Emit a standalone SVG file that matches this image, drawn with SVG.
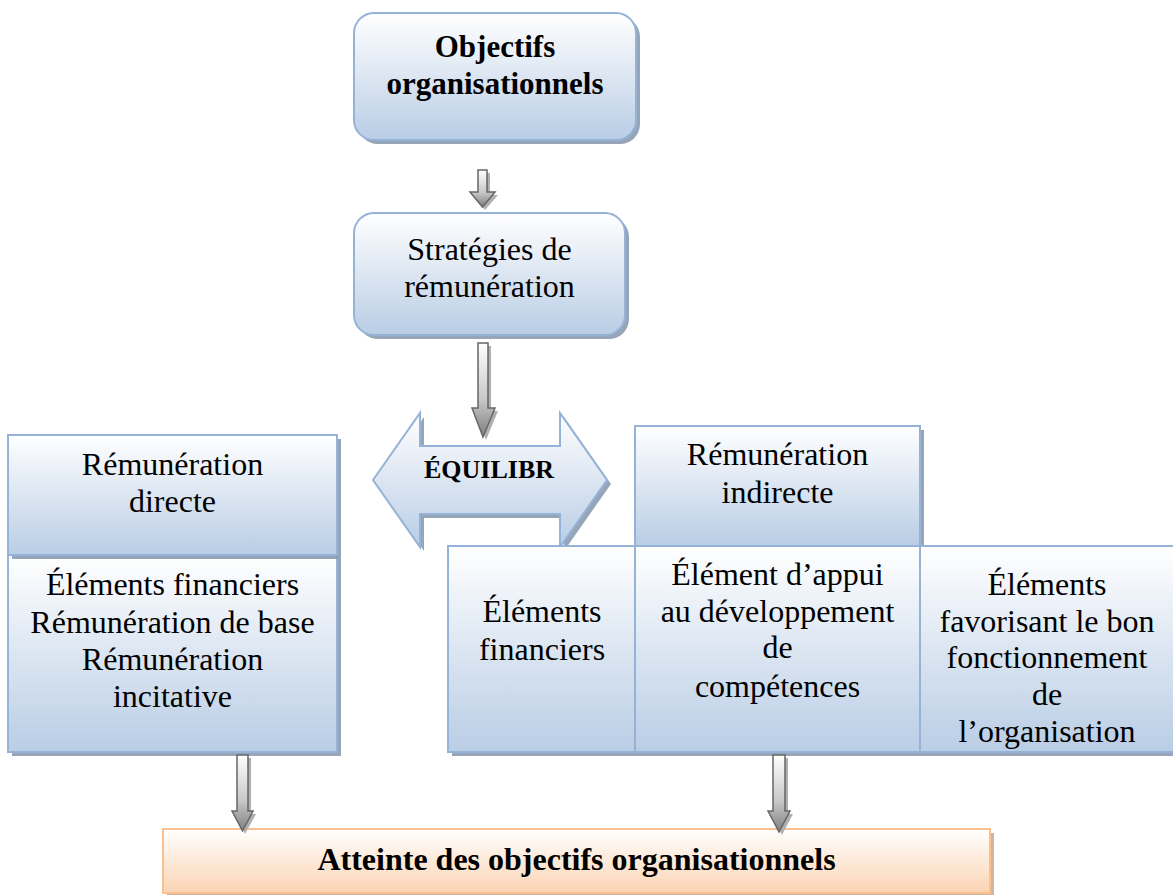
<svg xmlns="http://www.w3.org/2000/svg" width="1173" height="895" viewBox="0 0 1173 895">
<defs>
<linearGradient id="gBlue" x1="0" y1="0" x2="0" y2="1">
<stop offset="0" stop-color="#ffffff"/><stop offset="0.5" stop-color="#dce6f2"/><stop offset="1" stop-color="#b9cde5"/>
</linearGradient>
<linearGradient id="gOrange" x1="0" y1="0" x2="0" y2="1">
<stop offset="0" stop-color="#ffffff"/><stop offset="1" stop-color="#fbd4b4"/>
</linearGradient>
<linearGradient id="gGray" x1="0" y1="0" x2="0" y2="1">
<stop offset="0" stop-color="#ffffff"/><stop offset="0.6" stop-color="#c8c8c8"/><stop offset="1" stop-color="#7f7f7f"/>
</linearGradient>
<style>
.blue{fill:url(#gBlue);stroke:#95b3d7;stroke-width:2}
.orange{fill:url(#gOrange);stroke:#fac090;stroke-width:2}
.shadow{fill:#8496ac;opacity:0.85}
.ashadow{fill:#b0b0b0}
.arrow{fill:url(#gGray);stroke:#666666;stroke-width:1.5}
.t{font-family:"Liberation Serif","Times New Roman",serif;font-size:32px;fill:#000;text-anchor:middle}
.b{font-weight:bold}
</style>
</defs>

<g id="objectifs">
<rect class="shadow" x="358" y="17" width="282" height="127" rx="20"/>
<rect class="blue" x="354" y="13" width="282" height="127" rx="20"/>
<text class="t b" x="495" y="57" style="font-size:31px">Objectifs</text>
<text class="t b" x="495" y="94" style="font-size:31px">organisationnels</text>
</g>

<g id="strategies">
<rect class="shadow" x="358" y="217" width="271" height="122" rx="20"/>
<rect class="blue" x="354" y="213" width="271" height="122" rx="20"/>
<text class="t" x="489.5" y="260">Stratégies de</text>
<text class="t" x="489.5" y="297">rémunération</text>
</g>

<g id="equilibre">
<path class="shadow" d="M377,484 L424,417 L424,451 L564,451 L564,417 L611,484 L564,551 L564,518 L424,518 L424,551 Z"/>
<path class="blue" d="M373,480 L420,413 L420,446 L560,446 L560,413 L607,480 L560,547 L560,514 L420,514 L420,547 Z"/>
<text class="t b" x="489" y="478" style="font-size:26px">ÉQUILIBR</text>
</g>

<g id="directe-elements">
<rect class="shadow" x="12" y="559" width="329" height="197"/>
<rect class="blue" x="8" y="555" width="329" height="197"/>
<text class="t" x="172.5" y="595">Éléments financiers</text>
<text class="t" x="172.5" y="633">Rémunération de base</text>
<text class="t" x="172.5" y="670">Rémunération</text>
<text class="t" x="172.5" y="707">incitative</text>
</g>

<g id="directe">
<rect class="shadow" x="12" y="439" width="329" height="120"/>
<rect class="blue" x="8" y="435" width="329" height="120"/>
<text class="t" x="172.5" y="475">Rémunération</text>
<text class="t" x="172.5" y="512">directe</text>
</g>

<g id="indirecte">
<rect class="shadow" x="639" y="430" width="285" height="120"/>
<rect class="blue" x="635" y="426" width="285" height="120"/>
<text class="t" x="777.5" y="465">Rémunération</text>
<text class="t" x="777.5" y="503">indirecte</text>
</g>

<g id="indirecte-row">
<rect class="shadow" x="452" y="550" width="730" height="206"/>
<g id="financiers">
<rect class="blue" x="448" y="546" width="187" height="206"/>
<text class="t" x="542" y="622">Éléments</text>
<text class="t" x="542" y="660">financiers</text>
</g>
<g id="appui">
<rect class="blue" x="635" y="546" width="285" height="206"/>
<text class="t" x="777.5" y="585">Élément d’appui</text>
<text class="t" x="777.5" y="622">au développement</text>
<text class="t" x="777.5" y="658">de</text>
<text class="t" x="777.5" y="697">compétences</text>
</g>
<g id="fonctionnement">
<rect class="blue" x="920" y="546" width="260" height="206"/>
<text class="t" x="1047" y="595">Éléments</text>
<text class="t" x="1047" y="632">favorisant le bon</text>
<text class="t" x="1047" y="668">fonctionnement</text>
<text class="t" x="1047" y="705">de</text>
<text class="t" x="1047" y="742">l’organisation</text>
</g>
</g>

<g id="atteinte">
<rect class="shadow" x="167" y="833" width="827" height="70" style="fill:#c9a88c"/>
<rect class="orange" x="163" y="829" width="827" height="64"/>
<text class="t b" x="576.5" y="870">Atteinte des objectifs organisationnels</text>
</g>

<g id="connectors">
<path class="ashadow" d="M481,173 L490,173 L490,195 L498,195 L485,210 L473,195 L481,195 Z"/>
<path class="arrow" d="M478,170 L487,170 L487,192 L495,192 L482.5,207 L470,192 L478,192 Z"/>
<path class="ashadow" d="M481,346 L491,346 L491,411 L498,411 L486,440 L475,411 L481,411 Z"/>
<path class="arrow" d="M478,343 L488,343 L488,408 L495,408 L483,437 L472,408 L478,408 Z"/>
<path class="ashadow" d="M240,758 L251,758 L251,814 L256,814 L245,834 L235,814 L240,814 Z"/>
<path class="arrow" d="M237,755 L248,755 L248,811 L253,811 L242.5,831 L232,811 L237,811 Z"/>
<path class="ashadow" d="M776,758 L788,758 L788,814 L793,814 L782,835 L771,814 L776,814 Z"/>
<path class="arrow" d="M773,755 L785,755 L785,811 L790,811 L779,832 L768,811 L773,811 Z"/>
</g>
</svg>
